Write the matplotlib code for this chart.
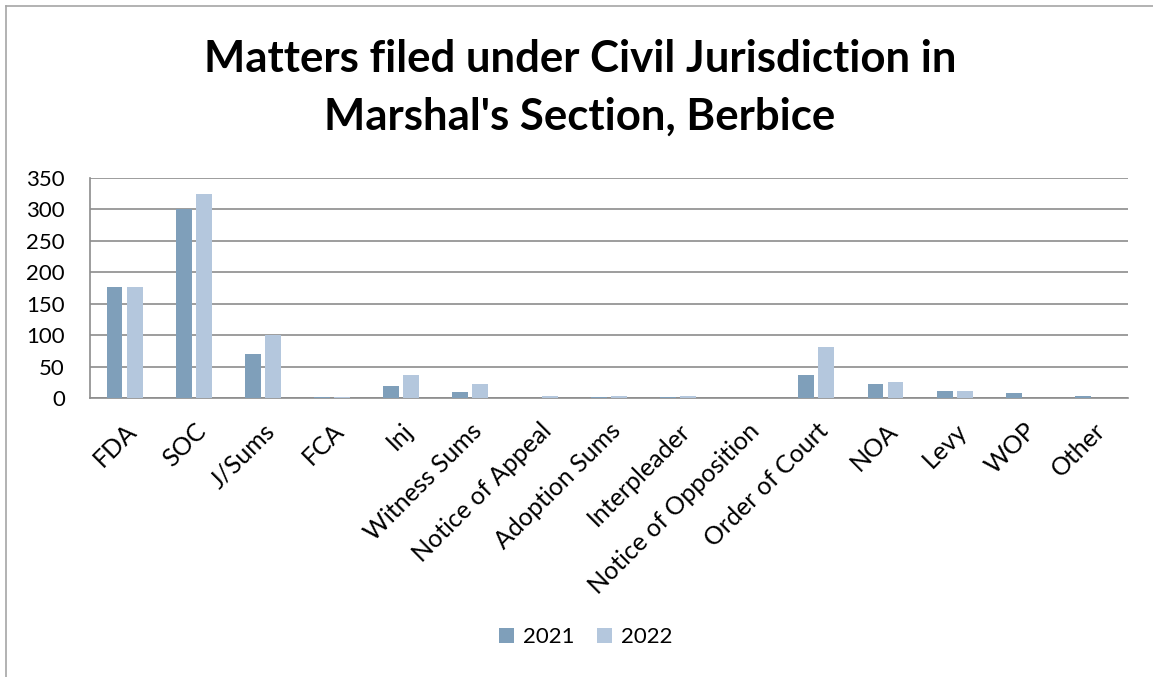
import numpy as np
import matplotlib
matplotlib.use('Agg')
import matplotlib.pyplot as plt
from matplotlib.lines import Line2D

# Data
categories = ['FDA', 'SOC', 'J/Sums', 'FCA', 'Inj', 'Witness Sums', 'Notice of Appeal',
              'Adoption Sums', 'Interpleader', 'Notice of Opposition', 'Order of Court',
              'NOA', 'Levy', 'WOP', 'Other']
vals_2021 = [176, 300, 70, 1, 19, 9, 0, 1, 1, 0, 36, 22, 12, 8, 3]
vals_2022 = [176, 325, 100, 1, 36, 22, 3, 4, 3, 0, 81, 25, 12, 0, 0]
yticks = [0, 50, 100, 150, 200, 250, 300, 350]

plt.rcParams['font.family'] = ['Lato', 'DejaVu Sans']

fig = plt.figure(figsize=(11.53, 6.77), dpi=100)
ax = fig.add_axes([0.078, 0.412, 0.900, 0.325])

x = np.arange(len(categories))
w = 0.23
ax.bar(x - 0.145, vals_2021, w, color='#7f9fba', label='2021', zorder=3)
ax.bar(x + 0.145, vals_2022, w, color='#b4c7dd', label='2022', zorder=3)

ax.set_xlim(-0.5, len(categories) - 0.5)
ax.set_ylim(0, 350)
ax.set_yticks(yticks)
ax.yaxis.grid(True, color='#8c8c8c', linewidth=1.2, zorder=0)
ax.tick_params(axis='both', length=0)
ax.tick_params(axis='y', labelsize=16, pad=18)
ax.tick_params(axis='x', labelsize=18, pad=15)
ax.set_xticks(x)
ax.set_xticklabels(categories, rotation=45, ha='right', rotation_mode='anchor')
for s in ['top', 'right']:
    ax.spines[s].set_visible(False)
for s in ['left', 'bottom']:
    ax.spines[s].set_color('#8c8c8c')
    ax.spines[s].set_linewidth(1.2)

# title, two lines placed by baseline
fig.text(0.503, 1 - 72 / 677, "Matters filed under Civil Jurisdiction in",
         ha='center', va='baseline', fontsize=31.5, fontweight='bold')
fig.text(0.503, 1 - 130 / 677, "Marshal's Section, Berbice",
         ha='center', va='baseline', fontsize=31.5, fontweight='bold')

fig.legend(loc='center', bbox_to_anchor=(0.508, 0.059), ncol=2, frameon=False,
           fontsize=16, handlelength=0.7, handleheight=0.7, columnspacing=1.0,
           handletextpad=0.4)

# chart frame (top and left edges visible in the reference)
fx, fy = 6 / 1153, 1 - 6 / 677
fig.add_artist(Line2D([fx, 1], [fy, fy], transform=fig.transFigure, color='#a6a6a6', lw=1.2))
fig.add_artist(Line2D([fx, fx], [0, fy], transform=fig.transFigure, color='#a6a6a6', lw=1.2))

fig.savefig('out.png', dpi=100)
